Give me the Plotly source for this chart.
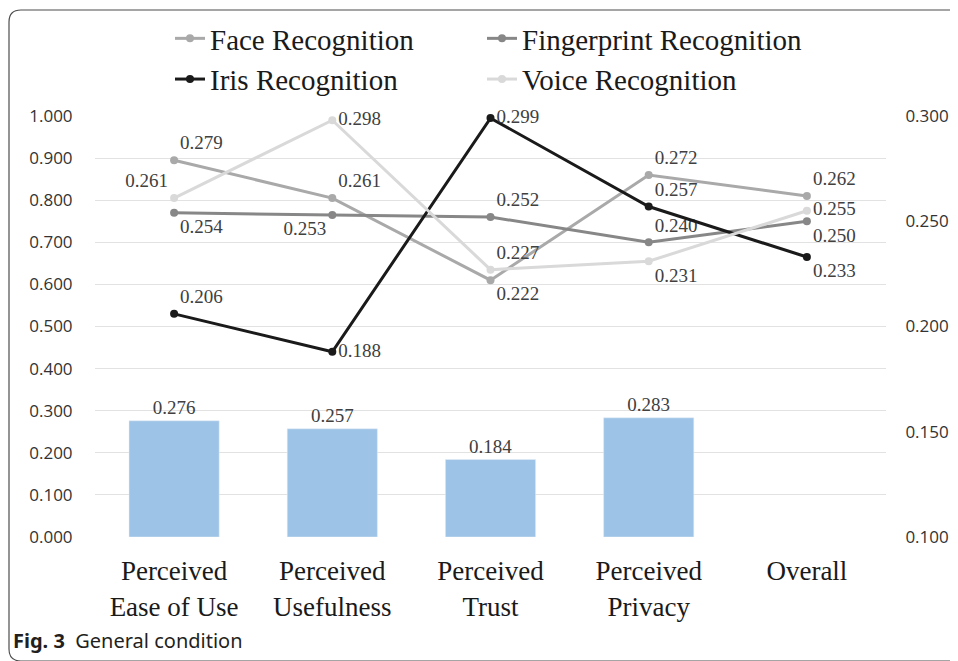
import plotly.graph_objects as go

categories = ["Perceived<br>Ease of Use", "Perceived<br>Usefulness", "Perceived<br>Trust",
              "Perceived<br>Privacy", "Overall"]
bar_values = [0.276, 0.257, 0.184, 0.283, None]
face = [0.279, 0.261, 0.222, 0.272, 0.262]
fingerprint = [0.254, 0.253, 0.252, 0.240, 0.250]
iris = [0.206, 0.188, 0.299, 0.257, 0.233]
voice = [0.261, 0.298, 0.227, 0.231, 0.255]
left_ticks = [0.0, 0.1, 0.2, 0.3, 0.4, 0.5, 0.6, 0.7, 0.8, 0.9, 1.0]
right_ticks = [0.100, 0.150, 0.200, 0.250, 0.300]

SCREEN_W, SCREEN_H = 958, 661
OFF = 8  # default page body margin
W, H = SCREEN_W - OFF, SCREEN_H - OFF
L, R, T, B = 95, 886, 116, 537  # plot area in screen pixels


def px(x):
    return (x - L) / (R - L)


def py(y):
    return (B - y) / (B - T)


SERIF = "Liberation Serif"
LABEL_COLOR = "#404040"

fig = go.Figure()
fig.add_trace(go.Bar(
    x=categories, y=bar_values, marker=dict(color="#9dc3e6"),
    text=[("%.3f" % v) if v is not None else "" for v in bar_values],
    textposition="outside", textfont=dict(family=SERIF, size=19, color=LABEL_COLOR),
    cliponaxis=False, showlegend=False, hoverinfo="skip"))

series = [
    ("Face Recognition", face, "#a9a9a9", "legend",
     ["top right", "top right", "bottom right", "top right", "top right"]),
    ("Fingerprint Recognition", fingerprint, "#878787", "legend2",
     ["bottom right", "bottom left", "top right", "top right", "bottom right"]),
    ("Iris Recognition", iris, "#1a1a1a", "legend",
     ["top right", "middle right", "middle right", "top right", "bottom right"]),
    ("Voice Recognition", voice, "#d9d9d9", "legend2",
     ["top left", "middle right", "top right", "bottom right", "middle right"]),
]
for name, vals, color, leg, pos in series:
    fig.add_trace(go.Scatter(
        x=categories, y=vals, name=name, yaxis="y2", mode="lines+markers+text",
        line=dict(color=color, width=3), marker=dict(color=color, size=8),
        text=["%.3f" % v for v in vals], textposition=pos, legend=leg,
        textfont=dict(family=SERIF, size=19, color=LABEL_COLOR), cliponaxis=False))

r = 12
x0, x1, y0, y1 = 9, 980, 10, 661
path = (f"M {px(x1)} {py(y0)} L {px(x0 + r)} {py(y0)} Q {px(x0)} {py(y0)} {px(x0)} {py(y0 + r)} "
        f"L {px(x0)} {py(y1 - r)} Q {px(x0)} {py(y1)} {px(x0 + r)} {py(y1)} L {px(x1)} {py(y1)}")

legend_common = dict(orientation="v", yanchor="top", xanchor="left", itemwidth=30,
                     font=dict(family=SERIF, size=29, color="#1a1a1a"),
                     bgcolor="rgba(0,0,0,0)", traceorder="normal", tracegroupgap=0)

fig.update_layout(
    width=W, height=H, paper_bgcolor="white", plot_bgcolor="white",
    margin=dict(l=L - OFF, r=SCREEN_W - R, t=T - OFF, b=SCREEN_H - B, autoexpand=False),
    bargap=0.43,
    font=dict(family="Open Sans", color="#333333"),
    xaxis=dict(type="category", showgrid=False, showline=False, zeroline=False,
               tickfont=dict(family=SERIF, size=27, color="#1a1a1a"),
               ticks="outside", ticklen=10, tickcolor="rgba(0,0,0,0)"),
    yaxis=dict(range=[0, 1.0], tickvals=left_ticks, tickformat=".3f", showgrid=True,
               gridcolor="#e2e2e2", gridwidth=1, zeroline=False, showline=False,
               ticks="outside", ticklen=18, tickcolor="rgba(0,0,0,0)",
               tickfont=dict(family="Open Sans", size=17, color="#333333")),
    yaxis2=dict(range=[0.1, 0.3], tickvals=right_ticks, tickformat=".3f", overlaying="y",
                side="right", showgrid=False, zeroline=False, showline=False,
                ticks="outside", ticklen=15, tickcolor="rgba(0,0,0,0)",
                tickfont=dict(family="Open Sans", size=17, color="#333333")),
    legend=dict(x=px(170), y=py(13), **legend_common),
    legend2=dict(x=px(482), y=py(13), **legend_common),
    shapes=[dict(type="path", path=path, xref="paper", yref="paper",
                 line=dict(color="#4d4d4d", width=1.2), layer="above")],
    annotations=[dict(text="<b>Fig. 3</b>  General condition", xref="paper", yref="paper",
                      x=px(11), y=py(640), xanchor="left", yanchor="middle", showarrow=False,
                      font=dict(family="Noto Sans", size=20, color="#231f20"))],
)

fig.write_html("out.html")
